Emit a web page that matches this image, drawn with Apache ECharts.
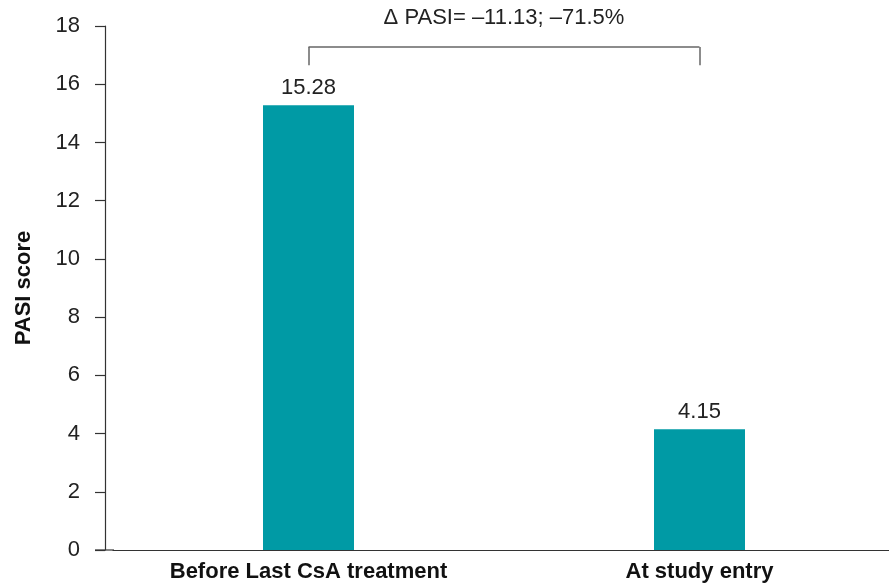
<!DOCTYPE html>
<html>
<head>
<meta charset="utf-8">
<title>PASI score</title>
<script src="https://cdn.jsdelivr.net/npm/echarts@6/dist/echarts.min.js"></script>
<style>
  html, body { margin: 0; padding: 0; background: #fff; overflow: hidden; }
  /* a few px wider than the window so the baseline runs off the right edge */
  #chart { width: 895px; height: 588px; }
</style>
</head>
<body>
<div id="chart"></div>
<script type="text/javascript">
	// data
	var categories = ['Before Last CsA treatment', 'At study entry'];
	var scores = [15.28, 4.15];
	var yTicks = [0, 18, 2];            // min, max, interval
	var deltaText = '\u0394 PASI= \u201311.13; \u201371.5%';
	var bracketLow = 16.65, bracketHigh = 17.28;

	var font = 'Arial, "Liberation Sans", sans-serif';
	var myChart = echarts.init(document.getElementById('chart'));

	var option = {
		backgroundColor: '#fff',
		animation: false,
		grid: {
			left: 113,
			right: 0,
			top: 26,
			bottom: 38
		},
		xAxis: {
			type: 'category',
			data: categories,
			axisTick: { show: false },
			axisLine: { lineStyle: { color: '#333', width: 1.2 } },
			axisLabel: {
				interval: 0,
				margin: 11,
				fontFamily: font,
				fontSize: 22,
				fontWeight: 'bold',
				color: '#111'
			}
		},
		yAxis: {
			type: 'value',
			min: yTicks[0],
			max: yTicks[1],
			interval: yTicks[2],
			offset: 8,
			name: 'PASI score',
			nameLocation: 'middle',
			nameGap: 70,
			nameTextStyle: {
				fontFamily: font,
				fontSize: 22,
				fontWeight: 'bold',
				color: '#111'
			},
			axisLine: { show: true, lineStyle: { color: '#333', width: 1.2 } },
			axisTick: { show: true, length: 10, lineStyle: { color: '#333', width: 1.2 } },
			splitLine: { show: false },
			axisLabel: {
				margin: 25,
				fontFamily: font,
				fontSize: 22,
				color: '#222'
			}
		},
		graphic: [
			{
				// short piece of the baseline left of the plot
				type: 'line',
				shape: { x1: 95, y1: 550, x2: 114, y2: 550 },
				style: { stroke: '#333', lineWidth: 1.2 }
			}
		],
		series: [
			{
				type: 'bar',
				data: scores,
				barWidth: 91,
				itemStyle: { color: '#009aa5' },
				label: {
					show: true,
					position: 'top',
					distance: 6,
					fontFamily: font,
					fontSize: 22,
					color: '#222'
				},
				markLine: {
					silent: true,
					symbol: 'none',
					animation: false,
					lineStyle: { color: '#666', width: 1.5, type: 'solid' },
					label: { show: false },
					data: [
						[{ coord: [0, bracketLow] }, { coord: [0, bracketHigh] }],
						[
							{
								coord: [0, bracketHigh],
								label: {
									show: true,
									position: 'middle',
									distance: 18,
									formatter: deltaText,
									fontFamily: font,
									fontSize: 22,
									color: '#222'
								}
							},
							{ coord: [1, bracketHigh] }
						],
						[{ coord: [1, bracketHigh] }, { coord: [1, bracketLow] }]
					]
				}
			}
		]
	};
	myChart.setOption(option);
</script>
</body>
</html>
